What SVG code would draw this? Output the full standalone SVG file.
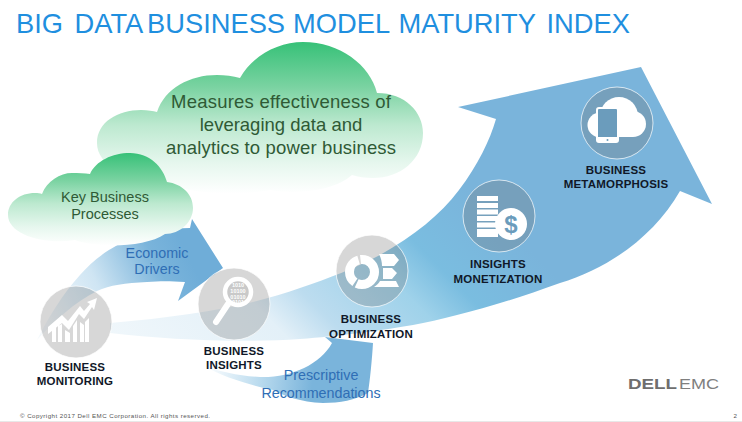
<svg xmlns="http://www.w3.org/2000/svg" width="742" height="422" viewBox="0 0 742 422">
<defs>
<linearGradient id="g1" x1="0" y1="0" x2="0" y2="1"><stop offset="0" stop-color="#37c178"/><stop offset=".3" stop-color="#7bd3a2"/><stop offset=".55" stop-color="#bde9d0"/><stop offset=".8" stop-color="#e6f7ee"/><stop offset="1" stop-color="#ffffff"/></linearGradient>
<linearGradient id="big" gradientUnits="userSpaceOnUse" x1="150" y1="380" x2="450" y2="80"><stop offset="0" stop-color="#f0f7fb"/><stop offset=".3" stop-color="#e3f0f8"/><stop offset=".4" stop-color="#bcdcef"/><stop offset=".57" stop-color="#9fd2ea"/><stop offset=".67" stop-color="#7abde0"/><stop offset=".85" stop-color="#7ab4db"/></linearGradient>
<linearGradient id="eco" gradientUnits="userSpaceOnUse" x1="50" y1="330" x2="190" y2="260"><stop offset="0" stop-color="#f4f9fc"/><stop offset=".4" stop-color="#cfe5f3"/><stop offset=".8" stop-color="#7ab4db"/><stop offset="1" stop-color="#6fadd8"/></linearGradient>
<linearGradient id="pre" gradientUnits="userSpaceOnUse" x1="205" y1="365" x2="340" y2="380"><stop offset="0" stop-color="#ffffff"/><stop offset=".4" stop-color="#bcdcef"/><stop offset=".8" stop-color="#7ab4db"/></linearGradient>
<style>
.lab{font:bold 11.5px "Liberation Sans",Arial,sans-serif;fill:#101828;text-anchor:middle;letter-spacing:.2px}
.cl{font:14.5px "Liberation Sans",Arial,sans-serif;fill:#2f5a35;text-anchor:middle}
.ar{font:14.3px "Liberation Sans",Arial,sans-serif;fill:#2f6eb5;text-anchor:middle}
.c{fill:#6c6c6c;fill-opacity:.27;stroke:#fff;stroke-opacity:.7}
.ic{fill:#fff}
</style>
</defs>
<rect width="742" height="422" fill="#fff"/>
<text y="33" font-family="Liberation Sans, Arial, sans-serif" font-size="27.300" fill="#1f8fdf"><tspan x="16">BIG </tspan><tspan x="74.500">DATA </tspan><tspan x="147">BUSINESS </tspan><tspan x="293">MODEL </tspan><tspan x="398.500">MATURITY </tspan><tspan x="546.500">INDEX</tspan></text>
<g id="cloud-large"><path d="M97 143C97 122 118 110 141 110C148 110 153 111 157 112C165 88 190 75 217 75C225 75 233 76 240 78C252 56 278 42 303 42C340 42 370 65 377 93C405 93 423 112 423 133C423 160 400 178 373 178C365 178 358 177 352 175C335 190 300 195 270 190C240 196 190 195 165 182C125 180 97 165 97 143Z" fill="url(#g1)"/></g>
<g id="connectors">
<path id="big-arrow" d="M110 323C190 316 250 306 300 288C330 278 355 268 380 255C415 235 440 215 459 190C478 165 490 140 496 119L458 107L641 67L712 204L680 191C655 235 610 268 560 283C500 305 450 318 413 325C370 332 340 336 300 339C240 343 170 340 110 333Z" fill="url(#big)"/>
<path id="economic-arrow" d="M37 340C50 315 62 295 80 275C100 252 135 228 190 228L192 219L223 268L178 301L185 282C170 281 160 281 147 282C125 283 110 285 97 291C75 302 55 320 37 340Z" fill="url(#eco)"/>
<path id="prescriptive-arrow" d="M202 365C220 372 240 376 260 377C290 378 320 365 332 343L325 337L373 343C372 360 370 380 368 393C355 400 340 403 323 403C300 402 285 396 273 390C250 385 225 378 202 365Z" fill="url(#pre)"/>
</g>
<g id="cloud-small"><path d="M8 215C8 202 20 193 35 193C38 193 40 193 42 194C47 181 60 173 72 173C78 173 85 173 90 174C96 161 112 153 130 153C150 153 163 167 167 182C182 184 193 194 193 208C193 222 180 234 165 234C145 248 95 248 75 240C45 245 8 235 8 215Z" fill="url(#g1)"/></g>
<g id="cloud-text">
<text class="cl" style="font-size:18.5px" x="281" y="108" textLength="220" lengthAdjust="spacing">Measures effectiveness of</text>
<text class="cl" style="font-size:18.5px" x="281" y="131">leveraging data and</text>
<text class="cl" style="font-size:18.5px" x="281" y="154" textLength="230" lengthAdjust="spacing">analytics to power business</text>
<text class="cl" x="105" y="202">Key Business</text>
<text class="cl" x="105" y="219">Processes</text>
</g>
<g id="label-economic"><text class="ar" x="157" y="258">Economic</text><text class="ar" x="157" y="274">Drivers</text></g>
<g id="label-prescriptive"><text class="ar" x="321" y="380">Prescriptive</text><text class="ar" x="321" y="398">Recommendations</text></g>
<g id="node-monitoring"><circle class="c" cx="76" cy="322" r="36"/>
<path class="ic" d="M48 327L62 315L68 321L80 306L84 311L90 304L87 302L97 298L94 310L92 307L84 319L79 314L69 330L62 323L48 334ZM52 342V330L56 327V342ZM58 342V326L62 324V342ZM65 342V330L70 333V342ZM73 342V326L77 320V342ZM80 342V322L84 325V342ZM85 342V322L89 318V342Z"/>
<text class="lab" x="75" y="371">BUSINESS</text><text class="lab" x="75" y="385">MONITORING</text></g>
<g id="node-insights"><circle class="c" cx="234" cy="304" r="36"/>
<circle cx="238" cy="292" r="13" fill="#c9c9c9" stroke="#fff" stroke-width="4.500"/>
<path d="M228 304L216 322" stroke="#fff" stroke-width="6" stroke-linecap="round"/>
<g font-family="Liberation Sans, sans-serif" font-size="5.500" font-weight="bold" fill="#fff" text-anchor="middle"><text x="238" y="287">1010</text><text x="238" y="293">10100</text><text x="238" y="299">01010</text><text x="238" y="304">0101</text></g>
<text class="lab" x="234" y="355">BUSINESS</text><text class="lab" x="234" y="369">INSIGHTS</text></g>
<g id="node-optimization"><circle class="c" cx="372" cy="271" r="36"/>
<circle cx="362" cy="272" r="12.500" fill="none" stroke="#fff" stroke-width="9" stroke-dasharray="25 2 28 2 22 2"/>
<path class="ic" d="M379 254H394L399 260L394 266H382C382 262 381 258 379 254ZM383 268H392L397 273L392 279H383ZM380 281H396L399 287H374C377 285 379 283 380 281Z"/>
<text class="lab" x="371" y="323">BUSINESS</text><text class="lab" x="371" y="338">OPTIMIZATION</text></g>
<g id="node-monetization"><circle class="c" cx="499" cy="216" r="36"/>
<path class="ic" d="M477 196H498V201H477ZM477 203H498V208H477ZM477 209.500H498V214.500H477ZM477 216H498V221H477ZM477 222.500H498V227.500H477ZM477 229H498V237H477Z"/>
<circle cx="511" cy="224" r="16" fill="#fff"/>
<text x="511" y="233" font-family="Liberation Sans, sans-serif" font-weight="bold" font-size="24" fill="#6b9cbc" text-anchor="middle">$</text>
<text class="lab" x="498" y="268">INSIGHTS</text><text class="lab" x="498" y="283">MONETIZATION</text></g>
<g id="node-metamorphosis"><circle class="c" cx="617" cy="123" r="36"/>
<g class="ic"><circle cx="600" cy="125" r="12.500"/><circle cx="619" cy="116" r="19"/><circle cx="633" cy="124" r="13"/><rect x="600" y="118" width="33" height="19"/></g>
<rect x="597" y="108" width="21" height="34" rx="2" fill="#6b9cbc" stroke="#fff" stroke-width="2"/>
<rect x="597" y="137" width="21" height="5" fill="#fff"/><circle cx="607.500" cy="140" r="1" fill="#6b9cbc"/>
<text class="lab" x="616" y="174">BUSINESS</text><text class="lab" x="616" y="188">METAMORPHOSIS</text></g>
<g id="footer">
<text x="20" y="418" font-family="Liberation Sans, sans-serif" font-size="6.200" fill="#555" textLength="190" lengthAdjust="spacing">© Copyright 2017 Dell EMC Corporation. All rights reserved.</text>
<text x="737" y="418" font-family="Liberation Sans, sans-serif" font-size="6.200" fill="#555" text-anchor="end">2</text>
<text x="628" y="389" font-family="Liberation Sans, sans-serif" font-weight="bold" font-size="15.500" fill="#6e6e6e" textLength="49" lengthAdjust="spacingAndGlyphs">DELL</text>
<text x="679" y="389" font-family="Liberation Sans, sans-serif" font-size="15.500" fill="#7f7f7f" textLength="40" lengthAdjust="spacingAndGlyphs">EMC</text>
<rect y="421" width="742" height="1" fill="#e8e8e8"/>
</g>
</svg>
